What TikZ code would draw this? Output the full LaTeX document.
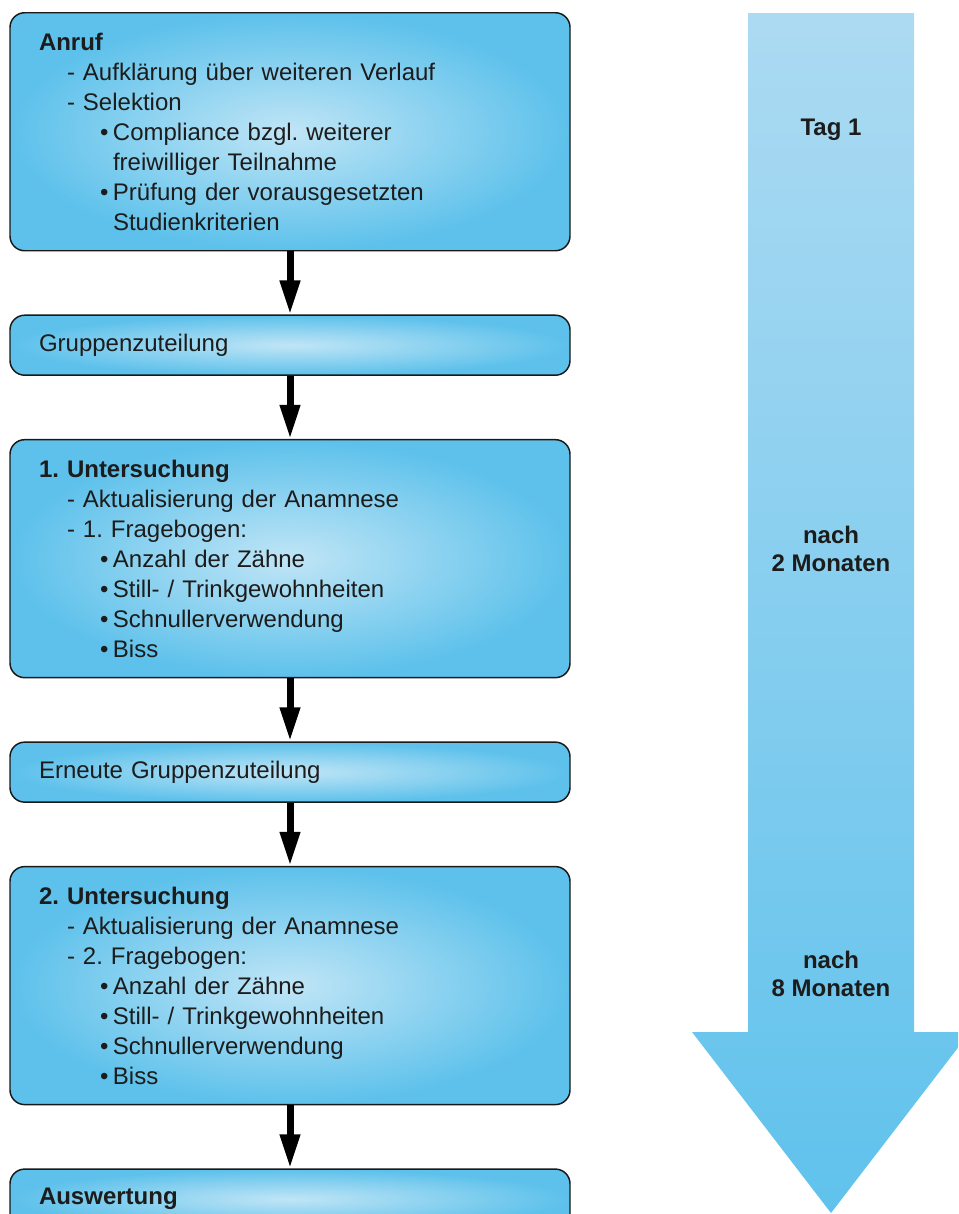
\documentclass[tikz,border=0pt]{standalone}
\usepackage{fontspec}
\setmainfont{Liberation Sans}
\usetikzlibrary{positioning,arrows.meta}
\frenchspacing

\definecolor{boxblue}{RGB}{93,193,235}
\definecolor{boxlight}{RGB}{192,229,246}
\definecolor{arrowtop}{RGB}{172,218,242}
\definecolor{arrowbottom}{RGB}{96,194,236}
\definecolor{inktext}{RGB}{28,28,28}

\newcommand{\dashitem}[1]{\hspace*{21pt}- #1}
\newcommand{\bulitem}[1]{\hspace*{45.75pt}\makebox[9.75pt][l]{\textbullet}#1}
\newcommand{\bulcont}[1]{\hspace*{55.5pt}#1}

\tikzset{
  phase/.style={draw=black!90, line width=1.1pt, rounded corners=11pt,
    inner color=boxlight, outer color=boxblue,
    minimum width=420pt, text width=376.5pt, inner xsep=21.75pt, inner ysep=0pt,
    align=left, text=inktext, font=\fontsize{18}{22.5}\selectfont},
  bigphase/.style={phase, minimum height=178.5pt},
  smallphase/.style={phase, minimum height=45pt},
  flow/.style={line width=5.25pt, -{Triangle[width=14.25pt,length=25.5pt]}},
  timelabel/.style={align=center, text=inktext, font=\fontsize{18}{21}\selectfont\bfseries}
}

\begin{document}
\begin{tikzpicture}[x=0.75pt, y=-0.75pt]
  \useasboundingbox (0,0) rectangle (958,1214);
  \clip (0,0) rectangle (958,1214);

  % time arrow on the right
  \shade[top color=arrowtop, bottom color=arrowbottom]
    (748,13) -- (914,13) -- (914,1032) -- (970,1032) -- (831,1213)
    -- (692,1032) -- (748,1032) -- cycle;
  \node[timelabel] (tag) at (831,130) {Tag 1};
  \node[timelabel] (zwei) at (831,549) {nach\\2 Monaten};
  \node[timelabel] (acht) at (831,974) {nach\\8 Monaten};

  % flow boxes
  \node[bigphase, anchor=north] (anruf) at (290,12) {\textbf{Anruf}\\
    \dashitem{Aufklärung über weiteren Verlauf}\\
    \dashitem{Selektion}\\
    \bulitem{Compliance bzgl. weiterer}\\
    \bulcont{freiwilliger Teilnahme}\\
    \bulitem{Prüfung der vorausgesetzten}\\
    \bulcont{Studienkriterien}};
  \node[smallphase, below=47.25pt of anruf] (gruppe) {Gruppenzuteilung};
  \node[bigphase, below=47.25pt of gruppe] (unters1) {\textbf{1. Untersuchung}\\
    \dashitem{Aktualisierung der Anamnese}\\
    \dashitem{1. Fragebogen:}\\
    \bulitem{Anzahl der Zähne}\\
    \bulitem{Still- / Trinkgewohnheiten}\\
    \bulitem{Schnullerverwendung}\\
    \bulitem{Biss}};
  \node[smallphase, below=47.25pt of unters1] (erneut) {Erneute Gruppenzuteilung};
  \node[bigphase, below=47.25pt of erneut] (unters2) {\textbf{2. Untersuchung}\\
    \dashitem{Aktualisierung der Anamnese}\\
    \dashitem{2. Fragebogen:}\\
    \bulitem{Anzahl der Zähne}\\
    \bulitem{Still- / Trinkgewohnheiten}\\
    \bulitem{Schnullerverwendung}\\
    \bulitem{Biss}};
  \node[smallphase, below=47.25pt of unters2] (auswert) {\textbf{Auswertung}};

  % connectors
  \draw[flow] (anruf) -- (gruppe);
  \draw[flow] (gruppe) -- (unters1);
  \draw[flow] (unters1) -- (erneut);
  \draw[flow] (erneut) -- (unters2);
  \draw[flow] (unters2) -- (auswert);
\end{tikzpicture}
\end{document}
